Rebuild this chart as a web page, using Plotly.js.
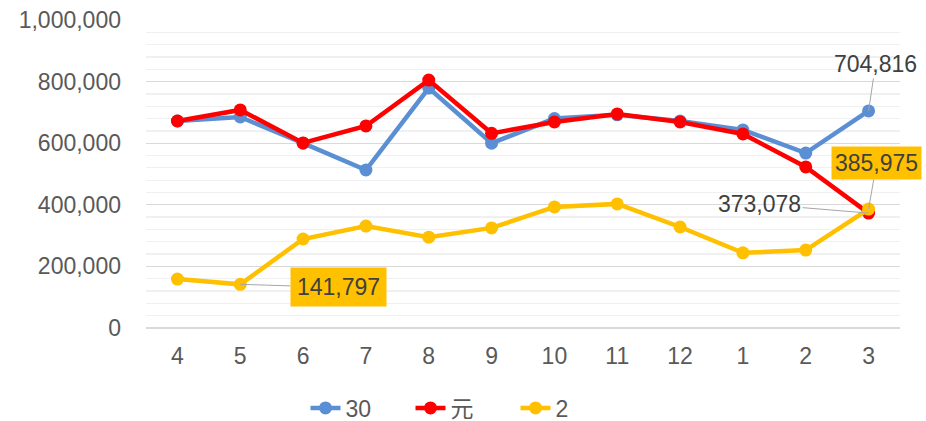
<!DOCTYPE html>
<html>
<head>
<meta charset="utf-8">
<script src="https://cdn.plot.ly/plotly-3.0.1.min.js"></script>
<style>html,body{margin:0;padding:0;background:#fff;}#chart{width:926px;height:421px;}</style>
</head>
<body>
<div id="chart"></div>
<script>
const categories = ["4","5","6","7","8","9","10","11","12","1","2","3"];
const seriesNames = ["30", "元", "2"];
const series30 = [672000, 685000, 600000, 513000, 779000, 600000, 680000, 692000, 672000, 643000, 568000, 704816];
const seriesYuan = [672000, 708000, 601000, 656000, 805000, 632000, 669000, 695000, 669000, 630000, 523000, 373078];
const series2 = [159000, 141797, 289000, 331000, 295000, 325000, 393000, 403000, 328000, 244000, 253000, 385975];
const yTicks = [0, 200000, 400000, 600000, 800000, 1000000];

const font = "Liberation Sans, Arial, Noto Sans CJK SC, sans-serif";
const colors = ["#5B8FD3", "#FF0000", "#FFC000"];
const data = [series30, seriesYuan, series2];

const traces = data.map((vals, i) => ({
  x: categories, y: vals, name: seriesNames[i], type: "scatter", mode: "lines+markers",
  line: {color: colors[i], width: 4.5}, marker: {color: colors[i], size: 13},
  hoverinfo: "skip", cliponaxis: false
}));

const fmt = v => v.toLocaleString("en-US");
const annFont = {family: font, size: 23, color: "#404040"};
const arrow = {showarrow: true, arrowhead: 0, arrowwidth: 1, arrowcolor: "#A6A6A6", standoff: 0, xref: "x", yref: "y"};
const annotations = [
  Object.assign({x: 11, y: series30[11], text: fmt(series30[11]), ax: 7, ay: -47, font: annFont}, arrow),
  Object.assign({x: 11, y: series2[11], text: fmt(series2[11]), ax: 8, ay: -46, font: annFont, bgcolor: "#FFC000", borderpad: 3}, arrow),
  Object.assign({x: 11, y: seriesYuan[11], text: fmt(seriesYuan[11]), ax: -109, ay: -9, font: annFont}, arrow),
  Object.assign({x: 1, y: series2[1], text: fmt(series2[1]), ax: 98, ay: 3, font: annFont, bgcolor: "#FFC000", borderpad: 6}, arrow)
];

const layout = {
  width: 926, height: 421,
  margin: {l: 146, r: 26, t: 20, b: 93},
  paper_bgcolor: "#fff", plot_bgcolor: "#fff",
  font: {family: font, size: 23, color: "#595959"},
  showlegend: true,
  legend: {orientation: "h", xref: "container", yref: "container", x: 0.5, xanchor: "center", y: 0.031, yanchor: "middle", entrywidth: 60, font: {family: font, size: 23, color: "#595959"}},
  xaxis: {type: "category", range: [-0.5, 11.5], showgrid: false, zeroline: false, showline: false, ticks: "", tickfont: {size: 23, color: "#595959"}, ticklabelstandoff: 12},
  yaxis: {range: [0, 1000000], tickvals: yTicks, ticktext: yTicks.map(fmt), showgrid: true, gridcolor: "#D9D9D9", gridwidth: 1.3, zeroline: true, zerolinecolor: "#D9D9D9", zerolinewidth: 1.3,
    minor: {dtick: 40000, showgrid: true, gridcolor: "#F0F0F0", gridwidth: 1.3}, tickfont: {size: 23, color: "#595959"}, ticks: "", ticklabelstandoff: 24, automargin: false},
  annotations: annotations
};

Plotly.newPlot("chart", traces, layout, {displayModeBar: false, staticPlot: true});
</script>
</body>
</html>
